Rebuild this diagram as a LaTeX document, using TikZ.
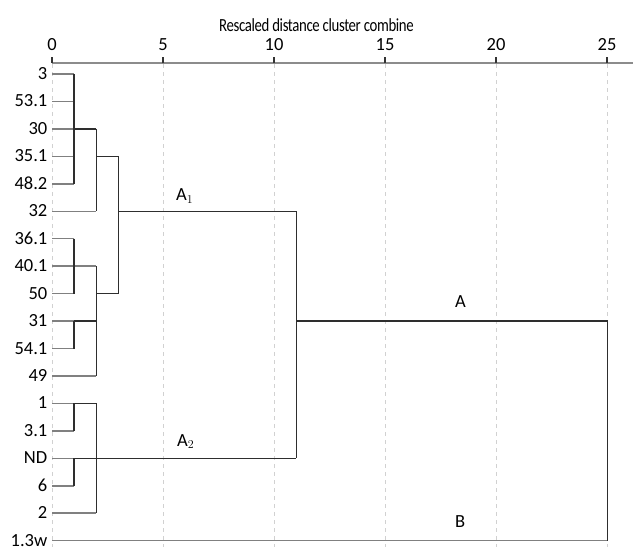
\documentclass[tikz,border=0pt]{standalone}
\usepackage{fontspec}
\setmainfont{Carlito}
\newfontfamily\titlefont{Carlito}[FakeStretch=0.8,LetterSpace=-2]
\begin{document}
\begin{tikzpicture}[x=1pt,y=-1pt,
  lbl/.style={anchor=base east,inner sep=0pt,font=\fontsize{18.5}{21}\selectfont},
  ticklbl/.style={anchor=base,inner sep=0pt,font=\fontsize{18.5}{21}\selectfont},
  titlelbl/.style={anchor=base,inner sep=0pt,font=\titlefont\fontsize{18.5}{21}\selectfont},
  clbl/.style={anchor=base west,inner sep=0pt,font=\fontsize{18.5}{21}\selectfont},
  leaf/.style={draw=black!50,line width=1.5pt},
  link/.style={draw=black!82,line width=1.5pt},
  grid/.style={draw=black!18,line width=0.8pt,dash pattern=on 4pt off 4pt},
  axisline/.style={draw=black!45,line width=1.6pt},
  tick/.style={draw=black!80,line width=1.3pt}]
\useasboundingbox (0,0) rectangle (633,547);
% distance columns
\coordinate (d1) at (74.2,0);
\coordinate (d2) at (96.4,0);
\coordinate (d3) at (118.7,0);
\coordinate (d11) at (296.4,0);
\coordinate (d25) at (607.5,0);
% grid, axis, ticks
\foreach \k in {0,5,...,25} {
  \coordinate (g\k) at ({52+22.2*\k},64);
  \coordinate (gb\k) at ({52+22.2*\k},547);
  \coordinate (gt\k) at ({52+22.2*\k},57);
  \node[ticklbl] (t\k) at ({52+22.2*\k},50.7) {\k};
}
\foreach \k in {0,5,...,25} { \draw[grid] (g\k) -- (gb\k); }
\coordinate (axR) at (633,63);
\draw[axisline] (g0 |- axR) -- (axR);
\foreach \k in {0,5,...,25} { \draw[tick] (gt\k) -- (gt\k |- axR); }
\node[titlelbl] (title) at (316.5,31) {Rescaled distance cluster combine};
% leaves
\foreach \i/\t in {0/3,1/53.1,2/30,3/35.1,4/48.2,5/32,6/36.1,7/40.1,8/50,9/31,10/54.1,11/49,12/1,13/3.1,14/ND,15/6,16/2,17/1.3w} {
  \node[lbl] (n\i) at (47.5,{74+27.45*\i+5.5}) {\t};
  \coordinate (s\i) at (52,{74+27.45*\i});
}
% leaf lines
\foreach \i in {0,1,2,3,4,6,8,9,10,12,13,14,15} { \draw[leaf] (s\i) -- (s\i -| d1); }
\foreach \i in {5,7,11,16} { \draw[leaf] (s\i) -- (s\i -| d2); }
\draw[leaf] (s17) -- (s17 -| d25);
% cluster a
\draw[link] (s0 -| d1) -- (s4 -| d1);
\draw[link] (s2 -| d1) -- (s2 -| d2);
\draw[link] (s2 -| d2) -- (s5 -| d2);
\draw[link] (s3 -| d2) -- (s3 -| d3);
% cluster b
\draw[link] (s6 -| d1) -- (s8 -| d1);
\draw[link] (s9 -| d1) -- (s10 -| d1);
\draw[link] (s9 -| d1) -- (s9 -| d2);
\draw[link] (s7 -| d2) -- (s11 -| d2);
\draw[link] (s8 -| d2) -- (s8 -| d3);
\draw[link] (s3 -| d3) -- (s8 -| d3);
% A1
\draw[link] (s5 -| d3) -- (s5 -| d11);
% cluster c
\draw[link] (s12 -| d1) -- (s13 -| d1);
\draw[link] (s12 -| d1) -- (s12 -| d2);
\draw[link] (s14 -| d1) -- (s15 -| d1);
\draw[link] (s12 -| d2) -- (s16 -| d2);
\draw[link] (s14 -| d1) -- (s14 -| d11);
% A
\draw[link] (s5 -| d11) -- (s14 -| d11);
\draw[link] (s9 -| d11) -- (s9 -| d25);
\draw[link] (s9 -| d25) -- (s17 -| d25);
% cluster labels
\node[clbl] (A1) at (176,200.5) {A$_1$};
\node[clbl] (A2) at (177,446) {A$_2$};
\node[clbl] (A) at (455,307) {A};
\node[clbl] (B) at (455,527) {B};
\end{tikzpicture}
\end{document}
